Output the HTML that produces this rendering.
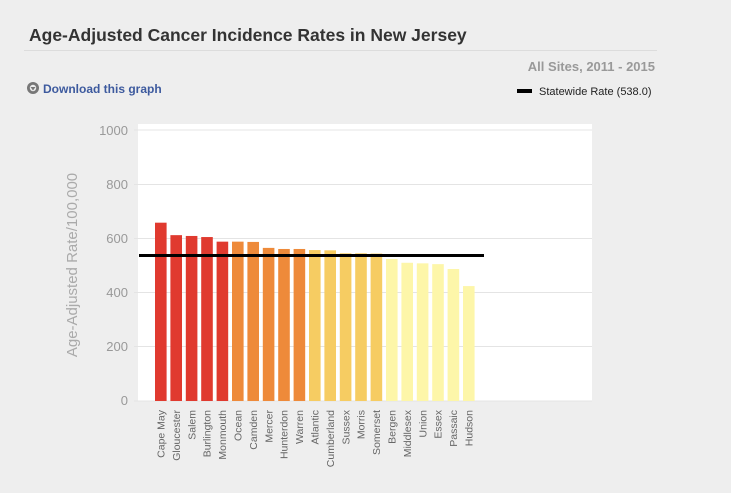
<!DOCTYPE html>
<html><head><meta charset="utf-8"><style>
body{margin:0;background:#eeeeee;width:731px;height:488px;overflow:hidden;font-family:"Liberation Sans",Arial,sans-serif}
</style></head><body>
<svg width="731" height="488" xmlns="http://www.w3.org/2000/svg" font-family="Liberation Sans, Arial, sans-serif">
<rect width="731" height="488" fill="#eeeeee"/>
<text x="29" y="41" font-size="17.5" font-weight="bold" fill="#333">Age-Adjusted Cancer Incidence Rates in New Jersey</text>
<line x1="24" y1="50.5" x2="657" y2="50.5" stroke="#dcdcdc" stroke-width="1"/>
<text x="655" y="71" font-size="13" font-weight="bold" fill="#999" text-anchor="end">All Sites, 2011 - 2015</text>
<circle cx="33" cy="88" r="6" fill="#777"/><circle cx="33" cy="88" r="3.2" fill="#eee"/><path d="M30.5 87 L35.5 87 L33 90.5 Z" fill="#777"/>
<text x="43" y="93" font-size="12" font-weight="bold" fill="#3d5a9e">Download this graph</text>
<rect x="517" y="89" width="15" height="4" fill="#000"/>
<text x="539" y="95" font-size="11" fill="#222">Statewide Rate (538.0)</text>
<rect x="138" y="124" width="454" height="277" fill="#fff"/>
<g stroke="#e4e4e4" stroke-width="1">
<line x1="134" y1="130" x2="592" y2="130"/><line x1="134" y1="184.5" x2="592" y2="184.5"/><line x1="134" y1="238.5" x2="592" y2="238.5"/><line x1="134" y1="292.5" x2="592" y2="292.5"/><line x1="134" y1="346.5" x2="592" y2="346.5"/><line x1="134" y1="401" x2="592" y2="401"/>
</g>
<g font-size="13" fill="#999" text-anchor="end">
<text x="128" y="135">1000</text><text x="128" y="189">800</text><text x="128" y="243">600</text><text x="128" y="297">400</text><text x="128" y="351">200</text><text x="128" y="405">0</text>
</g>
<text transform="translate(77,265) rotate(-90)" font-size="15" fill="#aaa" text-anchor="middle">Age-Adjusted Rate/100,000</text>
<g id="bars"></g>
<line x1="139" y1="255.5" x2="484" y2="255.5" stroke="#000" stroke-width="3"/>
<g id="labels" font-size="10.5" fill="#666"></g>
</svg>
<script>
var d=[["Cape May",658],["Gloucester",612],["Salem",609],["Burlington",605],["Monmouth",588],["Ocean",588],["Camden",587],["Mercer",565],["Hunterdon",561],["Warren",561],["Atlantic",557],["Cumberland",556],["Sussex",545],["Morris",545],["Somerset",544],["Bergen",524],["Middlesex",510],["Union",508],["Essex",505],["Passaic",487],["Hudson",424]];
var cols=["#e03a2f","#ee8a3a","#f6cc62","#fdf6a9"];
var b=document.getElementById("bars"),l=document.getElementById("labels"),ns="http://www.w3.org/2000/svg";
d.forEach(function(e,i){var x=155+i*15.4,y=401-e[1]*0.271;
var r=document.createElementNS(ns,"rect");r.setAttribute("x",x);r.setAttribute("y",y);r.setAttribute("width",11.6);r.setAttribute("height",401-y);r.setAttribute("fill",cols[Math.floor(i/5)>3?3:Math.floor(i/5)]);b.appendChild(r);
var t=document.createElementNS(ns,"text");t.setAttribute("transform","translate("+(x+9.5)+",410) rotate(-90)");t.setAttribute("text-anchor","end");t.textContent=e[0];l.appendChild(t);});
</script>
</body></html>
